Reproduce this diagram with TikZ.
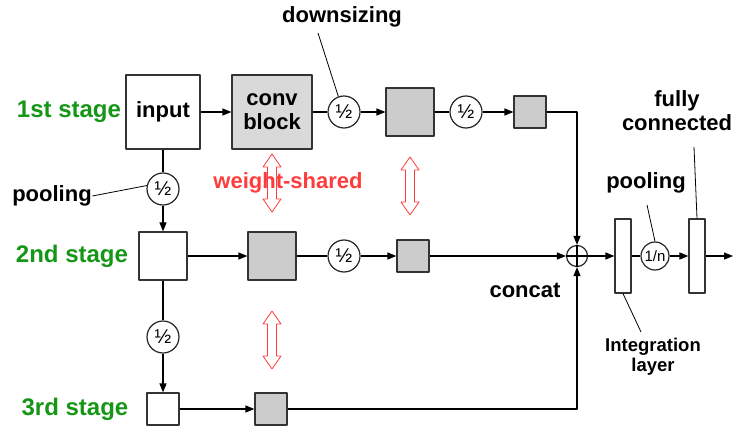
\documentclass[tikz,border=0pt]{standalone}
\usepackage{fontspec}
\setmainfont{Liberation Sans}
\usetikzlibrary{arrows.meta}
\definecolor{stagegreen}{RGB}{22,150,22}
\definecolor{sharedred}{RGB}{255,60,60}
\begin{document}
\begin{tikzpicture}[x=1pt, y=-1pt, >={Triangle[length=9pt,width=7pt]}, line width=1.2pt, line join=round,
	stagelbl/.style={text=stagegreen, font=\fontsize{24}{26}\selectfont\bfseries},
	lbl/.style={font=\fontsize{22}{24}\selectfont\bfseries, align=center, inner sep=0pt},
	wbox/.style={draw=black!80, fill=white, inner sep=0pt},
	gbox/.style={draw=black!80, fill=black!20, inner sep=0pt},
	half/.style={draw=black!85, circle, fill=white, minimum size=32pt, inner sep=0pt, font=\fontsize{20}{20}\selectfont},
	shared/.style={draw=sharedred, line width=0.8pt, fill=white}]
	% Khung ảnh
	\useasboundingbox (0,0) rectangle (735,425);
	
	% Các hằng số hàng
	\def\yA{112}
	\def\yB{256}
	\def\yC{409}
	\def\xS{163}
	
	% Mũi tên chia sẻ trọng số (vẽ trước chữ)
	\draw[shared, shift={(272,183)}] (0,-29) -- (9,-16) -- (4.5,-16) -- (4.5,16) -- (9,16) -- (0,29) -- (-9,16) -- (-4.5,16) -- (-4.5,-16) -- (-9,-16) -- cycle;
	\draw[shared, shift={(410,186)}] (0,-29) -- (9,-16) -- (4.5,-16) -- (4.5,16) -- (9,16) -- (0,29) -- (-9,16) -- (-4.5,16) -- (-4.5,-16) -- (-9,-16) -- cycle;
	\draw[shared, shift={(272,340)}] (0,-29) -- (9,-16) -- (4.5,-16) -- (4.5,16) -- (9,16) -- (0,29) -- (-9,16) -- (-4.5,16) -- (-4.5,-16) -- (-9,-16) -- cycle;
	
	% Nhãn các tầng
	\node[stagelbl] (st1) at (69,\yA) {1st stage};
	\node[stagelbl] (st2) at (72,\yB) {2nd stage};
	\node[stagelbl] (st3) at (75,\yC) {3rd stage};
	
	% Tầng 1
	\node[wbox, minimum size=74pt, lbl] (input) at (\xS,\yA) {input};
	\node[gbox, fill=black!15, minimum width=80pt, minimum height=74pt, lbl] (conv) at (272,\yA) {conv\\block};
	\node[half] (hA1) at (344,\yA) {½};
	\node[gbox, minimum size=48pt] (bA1) at (410,\yA) {};
	\node[half] (hA2) at (466,\yA) {½};
	\node[gbox, minimum size=32pt] (bA2) at (530,\yA) {};
	
	% Tầng 2
	\node[half] (hP1) at (\xS,189) {½};
	\node[wbox, minimum size=48pt] (in2) at (\xS,\yB) {};
	\node[gbox, minimum size=48pt] (bB1) at (272,\yB) {};
	\node[half] (hB1) at (344,\yB) {½};
	\node[gbox, minimum size=32pt] (bB2) at (413,\yB) {};
	
	% Tầng 3
	\node[half] (hP2) at (\xS,337) {½};
	\node[wbox, minimum size=32pt] (in3) at (\xS,\yC) {};
	\node[gbox, minimum size=32pt] (bC1) at (271,\yC) {};
	
	% Ghép nối và phần cuối
	\node[draw=black!85, circle, fill=white, minimum size=21pt, inner sep=0pt] (concat) at (577,\yB) {};
	\draw[line width=1.8pt] (concat.north) -- (concat.south) (concat.west) -- (concat.east);
	\node[wbox, minimum width=16pt, minimum height=74pt] (integ) at (623,\yB) {};
	\node[half, minimum size=28pt, font=\fontsize{15}{15}\selectfont] (poolN) at (655,\yB) {1/n};
	\node[wbox, minimum width=16pt, minimum height=74pt] (fc) at (697,\yB) {};
	\coordinate (out) at (733,\yB);
	
	% Các đường nối
	\draw[->] (input) -- (conv);
	\draw (conv) -- (hA1);
	\draw[->] (hA1) -- (bA1);
	\draw (bA1) -- (hA2);
	\draw[->] (hA2) -- (bA2);
	\draw[->] (bA2) -| (concat);
	
	\draw (input) -- (hP1);
	\draw[->] (hP1) -- (in2);
	\draw[->] (in2) -- (bB1);
	\draw (bB1) -- (hB1);
	\draw[->] (hB1) -- (bB2);
	\draw[->] (bB2) -- (concat);
	
	\draw (in2) -- (hP2);
	\draw[->] (hP2) -- (in3);
	\draw[->] (in3) -- (bC1);
	\draw[->] (bC1) -| (concat);
	
	\draw[->] (concat) -- (integ);
	\draw (integ) -- (poolN);
	\draw[->] (poolN) -- (fc);
	\draw[->] (fc) -- (out);
	
	% Chú thích
	\node[lbl] (down) at (342,17) {downsizing};
	\node[lbl] (poolL) at (52,196) {pooling};
	\node[lbl, text=sharedred] (wshared) at (288,183) {weight-shared};
	\node[lbl] (concatL) at (525,290) {concat};
	\node[lbl] (poolR) at (646,183) {pooling};
	\node[lbl] (fcL) at (677,111) {fully\\connected};
	\node[lbl, font=\fontsize{18.5}{20}\selectfont\bfseries] (integL) at (653,357) {Integration\\layer};
	
	\coordinate (downTip) at (318,33);
	\coordinate (poolRTip) at (647,205);
	\coordinate (fcTip) at (694,147);
	\coordinate (integTip) at (641,332);
	\draw[line width=0.8pt] (downTip) -- (hA1.110);
	\draw[line width=0.8pt] (poolL.east) -- (hP1.168);
	\draw[line width=0.8pt] (poolRTip) -- (poolN.north);
	\draw[line width=0.8pt] (fcTip) -- (fc.north);
	\draw[line width=0.8pt] (integ.south) -- (integTip);
\end{tikzpicture}
\end{document}
